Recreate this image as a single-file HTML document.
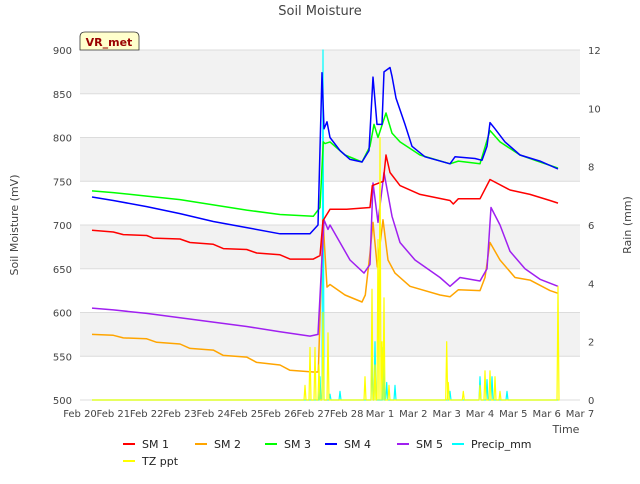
<!DOCTYPE html>
<html><head><meta charset="utf-8"><style>
body{margin:0;background:#fff;font-family:"DejaVu Sans","Liberation Sans",sans-serif}
svg text{font-family:"DejaVu Sans","Liberation Sans",sans-serif}
</style></head><body>
<svg id="c" width="640" height="480" xmlns="http://www.w3.org/2000/svg">
<rect width="640" height="480" fill="#fff"/>
<g id="bands"></g><g id="grid"></g><g id="series"></g><g id="axes"></g>
<text x="320" y="15" text-anchor="middle" font-size="13" fill="#444">Soil Moisture</text>
<text transform="translate(18,225) rotate(-90)" text-anchor="middle" font-size="11" fill="#444">Soil Moisture (mV)</text>
<text transform="translate(631,225) rotate(-90)" text-anchor="middle" font-size="11" fill="#444">Rain (mm)</text>
<text x="566" y="433" text-anchor="middle" font-size="11" fill="#444">Time</text>
<g>
<path d="M80,50 L80,37 Q80,32 85,32 L134,32 Q139,32 139,37 L139,50 Z" fill="#ffffcc" stroke="#333" stroke-width="0.8"/>
<text x="109" y="46" text-anchor="middle" font-size="11" font-weight="bold" fill="#990000">VR_met</text>
</g>
<g id="legend"></g>
</svg>
<script>
const xTicks=["Feb 20","Feb 21","Feb 22","Feb 23","Feb 24","Feb 25","Feb 26","Feb 27","Feb 28","Mar 1","Mar 2","Mar 3","Mar 4","Mar 5","Mar 6","Mar 7"];
const yTicks=[500,550,600,650,700,750,800,850,900];
const y2Ticks=[0,2,4,6,8,10,12];
// times in days since Feb 20 00:00
const sm1T=[0.36,1,1.3,2,2.2,3,3.3,4,4.3,5,5.3,6,6.3,7.0,7.2,7.29,7.5,8.0,8.7,8.77,9.1,9.18,9.3,9.6,10.2,11.1,11.2,11.35,12.0,12.3,12.9,13.5,14.1,14.34];
const sm1V=[694,692,689,688,685,684,680,678,673,672,668,666,661,661,665,705,718,718,720,745,750,780,760,745,735,728,724,730,730,752,740,735,728,725];
const sm2T=[0.36,1,1.3,2,2.3,3,3.3,4,4.3,5,5.3,6,6.3,7.0,7.15,7.29,7.41,7.5,7.95,8.46,8.56,8.7,8.79,8.92,9.09,9.24,9.45,9.9,10.8,11.1,11.35,12.0,12.15,12.3,12.6,13.05,13.5,14.1,14.34];
const sm2V=[575,574,571,570,566,564,559,557,551,549,543,540,534,532,532,706,629,632,620,612,620,668,703,652,706,660,645,630,620,618,626,625,640,680,660,640,637,625,622];
const sm3T=[0.36,1,2,3,4,5,6,7.0,7.2,7.3,7.35,7.5,7.65,7.95,8.46,8.7,8.82,8.94,9.18,9.36,9.6,10.2,11.1,11.35,12.0,12.3,12.6,13.2,13.8,14.34];
const sm3V=[739,737,733,729,723,717,712,710,720,795,793,795,790,780,772,790,815,800,828,805,795,780,770,773,770,808,795,780,772,765];
const sm4T=[0.36,1,2,3,4,5,6,6.9,7.14,7.26,7.32,7.41,7.5,7.8,8.1,8.46,8.67,8.79,8.91,9.06,9.12,9.3,9.36,9.48,9.75,9.96,10.35,11.1,11.25,11.85,12.06,12.21,12.3,12.45,12.75,13.2,13.8,14.34];
const sm4V=[732,728,721,713,704,697,690,690,700,874,810,818,800,785,775,772,785,869,815,815,875,880,870,845,815,790,778,770,778,776,774,790,817,810,795,780,773,764];
const sm5T=[0.36,1,2,3,4,5,6,6.9,7.14,7.32,7.44,7.5,7.8,8.1,8.52,8.7,8.79,8.94,9.12,9.36,9.6,10.05,10.8,11.1,11.4,12.0,12.21,12.33,12.6,12.9,13.35,13.8,14.34];
const sm5V=[605,603,599,594,589,584,578,573,575,706,695,700,680,660,645,655,748,703,760,710,680,660,640,630,640,636,650,720,700,670,650,638,630];
const precipT=[7.2,7.29,7.5,7.8,8.76,8.85,9.1,9.2,9.45,11.1,12.0,12.21,12.36,12.81];
const precipV=[0.8,12,0.2,0.3,1.4,2.0,1.8,0.6,0.5,0.3,0.8,0.7,0.8,0.3];
const tzT=[6.75,6.9,7.05,7.17,7.29,7.44,8.55,8.76,8.85,8.94,9.0,9.06,9.12,9.27,11.0,11.05,11.5,12.0,12.15,12.3,12.45,12.6,14.34];
const tzV=[0.5,1.8,1.8,1.2,3.0,2.3,0.8,3.8,1.2,5.5,9.0,2.0,3.5,0.5,2.0,0.6,0.3,0.5,1.0,1.0,0.8,0.3,3.9];
const baseStart=0.36, baseEnd=14.34;

const L=80,R=580,T=50,B=400;
const xs=t=>L+t*(R-L)/15;
const ys=v=>B-(v-500)*(B-T)/400;
const y2=v=>B-v*(B-T)/12;
const NS="http://www.w3.org/2000/svg";
function mk(tag,attrs,parent){const e=document.createElementNS(NS,tag);for(const k in attrs)e.setAttribute(k,attrs[k]);parent.appendChild(e);return e;}
const bands=document.getElementById('bands'),grid=document.getElementById('grid'),ser=document.getElementById('series'),ax=document.getElementById('axes'),leg=document.getElementById('legend');
for(let v=550;v<900;v+=100){const r=mk('rect',{x:L,y:ys(v+50),width:R-L,height:ys(v)-ys(v+50),fill:'#f2f2f2'},bands);

}
yTicks.forEach(v=>{const l=mk('line',{x1:L,x2:R,y1:ys(v),y2:ys(v),stroke:'#dcdcdc','stroke-width':1},grid);


const t=mk('text',{x:L-8,y:ys(v)+4,'text-anchor':'end','font-size':10,fill:'#444'},ax);t.textContent=v;

});
y2Ticks.forEach(v=>{const t=mk('text',{x:R+8,y:y2(v)+4,'text-anchor':'start','font-size':10,fill:'#444'},ax);t.textContent=v;

});
xTicks.forEach((s,i)=>{const t=mk('text',{x:xs(i),y:B+17,'text-anchor':'middle','font-size':10,fill:'#444'},ax);t.textContent=s;

});
function line(T_,V_,yf,color,name,w){const d=T_.map((t,i)=>(i?'L':'M')+xs(t).toFixed(1)+','+yf(V_[i]).toFixed(1)).join(' ');
const p=mk('path',{d:d,fill:'none',stroke:color,'stroke-width':w||1.5,'stroke-linejoin':'round'},ser);

}
function spikes(T_,V_,color,name){const pts=[[baseStart,0]];T_.forEach((t,i)=>{pts.push([t-0.03,0],[t,V_[i]],[t+0.03,0]);});pts.push([baseEnd,0]);
line(pts.map(p=>p[0]),pts.map(p=>p[1]),y2,color,name,1.2);}
spikes(precipT,precipV,'#00ffff','precip-mm-line');
line(sm2T,sm2V,ys,'#ffa500','sm2-line');
line(sm5T,sm5V,ys,'#a020f0','sm5-line');
line(sm1T,sm1V,ys,'#ff0000','sm1-line');
line(sm3T,sm3V,ys,'#00ff00','sm3-line');
line(sm4T,sm4V,ys,'#0000ff','sm4-line');
spikes(tzT,tzV,'#ffff00','tz-ppt-line');
const legItems=[["SM 1","#ff0000",123,444],["SM 2","#ffa500",195,444],["SM 3","#00ff00",265,444],["SM 4","#0000ff",325,444],["SM 5","#a020f0",397,444],["Precip_mm","#00ffff",452,444],["TZ ppt","#ffff00",123,461]];
legItems.forEach(it=>{const g=mk('g',{},leg);


mk('line',{x1:it[2],x2:it[2]+12,y1:it[3],y2:it[3],stroke:it[1],'stroke-width':2},g);
const t=mk('text',{x:it[2]+19,y:it[3]+4,'font-size':11,fill:'#222'},g);t.textContent=it[0];});
</script>
</body></html>
